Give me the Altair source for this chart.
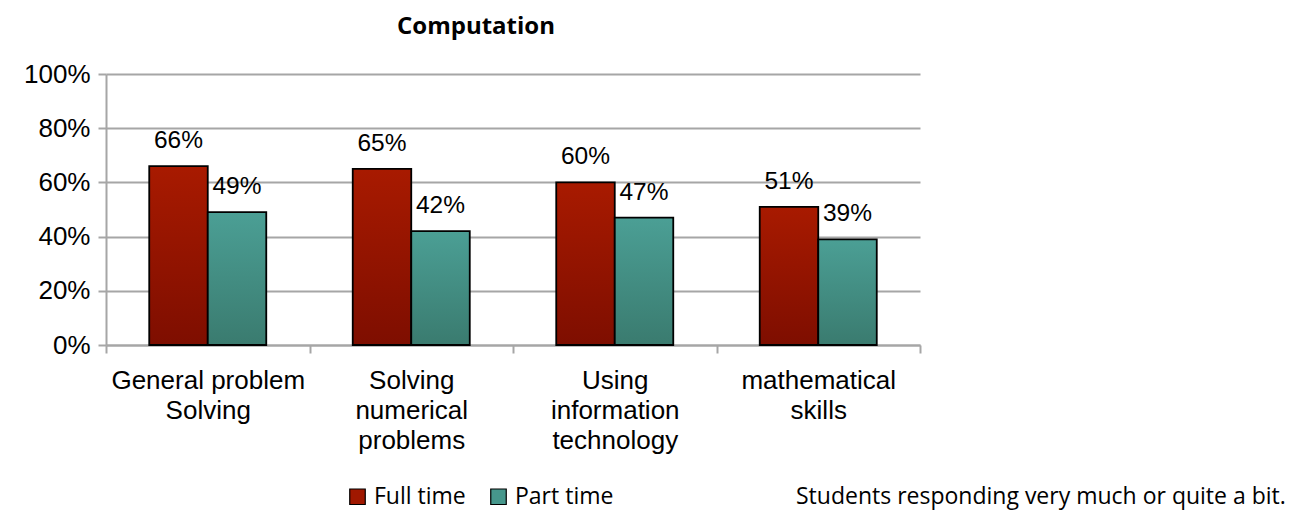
import altair as alt
import pandas as pd

categories = ["General problem\nSolving", "Solving\nnumerical\nproblems",
              "Using\ninformation\ntechnology", "mathematical\nskills"]
series = ["Full time", "Part time"]
full_time = [0.66, 0.65, 0.60, 0.51]
part_time = [0.49, 0.42, 0.47, 0.39]
label_full = ["66%", "65%", "60%", "51%"]
label_part = ["49%", "42%", "47%", "39%"]
y_ticks = [0, 0.2, 0.4, 0.6, 0.8, 1.0]
title_text = "Computation"
footnote = "Students responding very much or quite a bit."

rows = []
for c, v, l in zip(categories, full_time, label_full):
    rows.append({"category": c, "series": "Full time", "value": v, "label": l})
for c, v, l in zip(categories, part_time, label_part):
    rows.append({"category": c, "series": "Part time", "value": v, "label": l})
df = pd.DataFrame(rows)

red_grad = alt.Gradient(gradient="linear", x1=0, x2=0, y1=0, y2=1,
                        stops=[alt.GradientStop(color="#A81A00", offset=0),
                               alt.GradientStop(color="#7E0E00", offset=1)])
teal_grad = alt.Gradient(gradient="linear", x1=0, x2=0, y1=0, y2=1,
                         stops=[alt.GradientStop(color="#4B9F95", offset=0),
                                alt.GradientStop(color="#3A7B6F", offset=1)])

x_enc = alt.X("category:N", sort=categories, title=None,
              scale=alt.Scale(paddingInner=0, paddingOuter=0),
              axis=alt.Axis(labelAngle=0, labelExpr="split(datum.label, '\\n')",
                            tickBand="extent", tickSize=8, labelPadding=14,
                            labelFont="Liberation Sans", labelFontSize=26,
                            labelLineHeight=30, labelColor="black",
                            labelLimit=400,
                            domainColor="#A6A6A6", tickColor="#A6A6A6",
                            domainWidth=2, tickWidth=2, grid=False,
                            labelBaseline="top"))
xo_enc = alt.XOffset("series:N", sort=series,
                     scale=alt.Scale(domain=series, paddingInner=0, paddingOuter=0.739))
y_enc = alt.Y("value:Q", title=None,
              scale=alt.Scale(domain=[0, 1], nice=False),
              axis=alt.Axis(values=y_ticks, format=".0%", tickSize=8,
                            labelFont="Liberation Sans", labelFontSize=26,
                            labelColor="black", labelPadding=8,
                            domainColor="#A6A6A6", tickColor="#A6A6A6",
                            gridColor="#A6A6A6", domainWidth=2, tickWidth=2,
                            gridWidth=2))

base = alt.Chart(df)

bars_full = base.transform_filter(alt.datum.series == "Full time").mark_bar(
    fill=red_grad, stroke="black", strokeWidth=1.8).encode(
    x=x_enc, xOffset=xo_enc, y=y_enc)
bars_part = base.transform_filter(alt.datum.series == "Part time").mark_bar(
    fill=teal_grad, stroke="black", strokeWidth=1.8).encode(
    x=x_enc, xOffset=xo_enc, y=y_enc)

labels = base.mark_text(font="Liberation Sans", fontSize=24.5, color="black",
                        dy=-25, baseline="middle").encode(
    x=x_enc, xOffset=xo_enc, y=y_enc, text="label:N")

legend_layer = base.mark_square(opacity=0).encode(
    x=x_enc, xOffset=xo_enc, y=y_enc,
    color=alt.Color("series:N", sort=series,
                    scale=alt.Scale(domain=series, range=["#A01800", "#46978C"]),
                    legend=alt.Legend(title=None, orient="none", direction="horizontal",
                                      legendX=240, legendY=411,
                                      symbolType="square", symbolSize=240,
                                      symbolOpacity=1, symbolStrokeColor="black",
                                      symbolStrokeWidth=1.2,
                                      labelFont="Open Sans", labelFontSize=23,
                                      labelColor="black", labelOffset=5,
                                      columnPadding=21)))

foot = alt.Chart(pd.DataFrame({"t": [footnote]})).mark_text(
    font="Open Sans", fontSize=23, color="black", align="left",
    baseline="middle").encode(
    x=alt.value(690), y=alt.value(423), text="t:N")

chart = alt.layer(bars_full, bars_part, labels, legend_layer, foot).properties(
    width=814, height=271,
    title=alt.TitleParams(title_text, font="Open Sans", fontSize=24,
                          fontWeight="bold", anchor="middle", dx=-37,
                          offset=22, color="black"),
    autosize=alt.AutoSizeParams(type="none"),
    padding={"left": 98, "top": 66, "right": 376, "bottom": 165},
).configure_view(stroke=None).configure_axis(gridColor="#A6A6A6")

chart.save("out.html", embed_options={"renderer": "svg", "actions": False})
